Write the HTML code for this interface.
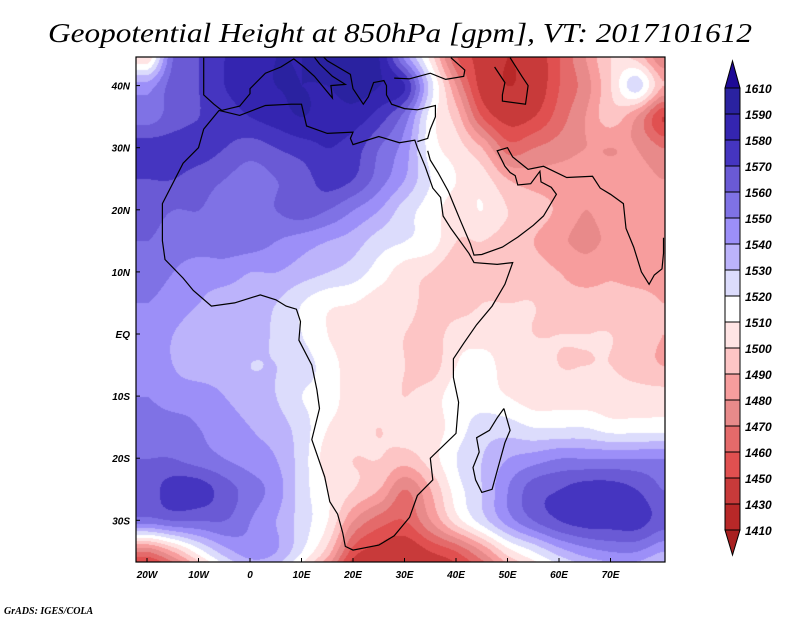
<!DOCTYPE html>
<html><head><meta charset="utf-8"><style>
body{margin:0;background:#fff;width:800px;height:618px;overflow:hidden;position:relative;font-family:"Liberation Sans",sans-serif}
canvas{position:absolute;left:0;top:0}
svg{position:absolute;left:0;top:0}
</style></head><body>
<canvas id="field" width="800" height="618"></canvas>
<svg id="ov" width="800" height="618"></svg>
<script>
const lons=[-20,-15,-10,-5,0,5,10,15,20,25,30,35,40,45,50,55,60,65,70,75,80];
const lats=[45,40,35,30,25,20,15,10,5,0,-5,-10,-15,-20,-25,-30,-35,-40];
const hgt=[
[1500,1560,1570,1580,1585,1590,1590,1595,1595,1590,1545,1505,1460,1445,1430,1440,1460,1480,1500,1495,1470],
[1545,1565,1570,1580,1585,1590,1590,1590,1595,1590,1580,1525,1480,1445,1430,1440,1460,1475,1500,1525,1490],
[1555,1565,1570,1575,1580,1585,1590,1585,1585,1575,1555,1515,1495,1460,1445,1450,1465,1480,1495,1480,1450],
[1575,1575,1575,1570,1565,1570,1575,1580,1575,1560,1545,1515,1505,1490,1465,1470,1475,1480,1480,1480,1470],
[1570,1570,1565,1560,1555,1560,1565,1575,1570,1555,1540,1520,1510,1505,1490,1485,1485,1485,1485,1485,1480],
[1565,1560,1560,1555,1555,1560,1565,1560,1550,1540,1525,1515,1505,1510,1500,1495,1488,1480,1485,1485,1485],
[1560,1555,1555,1555,1555,1550,1545,1540,1535,1525,1520,1515,1500,1500,1495,1490,1482,1478,1482,1485,1485],
[1555,1550,1545,1545,1540,1540,1535,1530,1525,1515,1505,1500,1492,1495,1495,1495,1490,1485,1488,1485,1485],
[1550,1545,1540,1535,1535,1530,1520,1512,1510,1505,1505,1495,1495,1500,1500,1500,1495,1495,1495,1495,1490],
[1545,1540,1535,1535,1535,1528,1520,1510,1505,1505,1500,1495,1505,1505,1505,1500,1500,1500,1500,1495,1490],
[1545,1540,1535,1535,1530,1530,1525,1515,1505,1505,1500,1495,1510,1515,1505,1505,1500,1500,1500,1495,1490],
[1550,1545,1545,1540,1535,1530,1520,1515,1505,1505,1500,1505,1515,1515,1510,1505,1505,1505,1505,1505,1505],
[1555,1555,1550,1545,1540,1535,1525,1510,1505,1500,1505,1505,1515,1525,1525,1520,1520,1520,1515,1515,1515],
[1560,1560,1555,1550,1545,1540,1525,1505,1500,1500,1495,1505,1520,1530,1540,1545,1550,1550,1550,1550,1550],
[1565,1575,1575,1565,1555,1545,1525,1510,1500,1490,1470,1490,1515,1530,1550,1565,1570,1575,1575,1570,1560],
[1555,1560,1560,1560,1550,1540,1525,1510,1480,1465,1460,1480,1505,1525,1545,1560,1570,1575,1575,1575,1565],
[1470,1490,1515,1535,1545,1540,1520,1495,1455,1445,1440,1450,1460,1480,1505,1520,1535,1545,1550,1550,1540],
[1420,1440,1470,1500,1520,1515,1490,1460,1430,1430,1430,1430,1440,1450,1470,1490,1500,1515,1520,1520,1510]
];
const levels=[1410,1430,1450,1460,1470,1480,1490,1500,1510,1520,1530,1540,1550,1560,1570,1580,1590,1610];
const levelColors=["#a82020","#b82828","#c83a3a","#e05050","#e46a6a","#e88a8a","#f79d9d","#fdc5c5","#ffe4e4","#ffffff","#dcdcfc","#bcb3fb","#9c8ff8","#7f72e5","#6a5ad5","#4535c0","#3425b0","#2a22a0","#1e0a96"];
const lonTicks=[-20,-10,0,10,20,30,40,50,60,70];
const lonTickLabels=["20W","10W","0","10E","20E","30E","40E","50E","60E","70E"];
const latTicks=[40,30,20,10,0,-10,-20,-30];
const latTickLabels=["40N","30N","20N","10N","EQ","10S","20S","30S"];

const PL=136,PR=665,PT=57,PB=562;
const xOf=l=>250+l*5.15, yOf=p=>334-p*6.21;
const lonOf=x=>(x-250)/5.15, latOf=y=>(334-y)/6.21;
function cr(p0,p1,p2,p3,t){return 0.5*((2*p1)+(-p0+p2)*t+(2*p0-5*p1+4*p2-p3)*t*t+(-p0+3*p1-3*p2+p3)*t*t*t);}
function g(j,i){j=Math.max(0,Math.min(lats.length-1,j));i=Math.max(0,Math.min(lons.length-1,i));return hgt[j][i];}
function val(lo,la){
  let fi=(lo-lons[0])/5, fj=(lats[0]-la)/5;
  fi=Math.max(0,Math.min(lons.length-1.001,fi)); fj=Math.max(0,Math.min(lats.length-1.001,fj));
  const i=Math.floor(fi),j=Math.floor(fj),a=fi-i,b=fj-j;
  const r=[];for(let k=-1;k<=2;k++)r.push(cr(g(j+k,i-1),g(j+k,i),g(j+k,i+1),g(j+k,i+2),a));
  return cr(r[0],r[1],r[2],r[3],b);
}
function hex(c){return [parseInt(c.slice(1,3),16),parseInt(c.slice(3,5),16),parseInt(c.slice(5,7),16)];}
const rgb=levelColors.map(hex);
function colIdx(v){let k=0;while(k<levels.length&&v>=levels[k])k++;return k;}
const cv=document.getElementById('field'),ctx=cv.getContext('2d');
const img=ctx.createImageData(PR-PL,PB-PT);
for(let y=PT;y<PB;y++)for(let x=PL;x<PR;x++){
  const c=rgb[colIdx(val(lonOf(x),latOf(y)))];const o=((y-PT)*(PR-PL)+(x-PL))*4;
  img.data[o]=c[0];img.data[o+1]=c[1];img.data[o+2]=c[2];img.data[o+3]=255;}
ctx.putImageData(img,PL,PT);

const NS='http://www.w3.org/2000/svg',svg=document.getElementById('ov');
function mk(t,a,p){const e=document.createElementNS(NS,t);for(const k in a)e.setAttribute(k,a[k]);(p||svg).appendChild(e);return e;}
const coasts=[
["africa-coastline",[[-6,36],[-9,33],[-10,30],[-13,27.5],[-17,21],[-17,15],[-16.5,12],[-13,9],[-11,7],[-7.5,4.5],[-3,5],[2,6.3],[5,5.5],[7,4.5],[9,4],[9.8,2],[9.5,-1],[12,-5],[13,-9],[13.5,-12],[12,-17],[14.5,-23],[15.5,-27],[17,-29],[18,-32],[18.5,-34.2],[20,-34.8],[25,-34],[28,-32.5],[31,-29.5],[32.5,-26],[35.5,-23.5],[35,-20],[40,-16],[40.5,-11],[39.5,-7],[39.5,-4],[41.5,-1.5],[44,1.5],[47,4.5],[49.5,8],[51,11.5],[48,11.2],[43.5,11.5],[42.5,13],[39,17],[37.5,19],[37,22],[35.5,23.5],[34,27],[32.5,30],[32,31.2],[29,30.8],[25,31.8],[20,30.5],[19.5,31.5],[20,32.5],[15,32.3],[11,33.5],[10,37],[8,37],[3,36.8],[-2,35.2],[-6,36]]],
["arabia-india-coastline",[[34.5,29.5],[35,28],[36.5,26],[38.5,23],[39.5,21],[41,18],[42.8,14.5],[43.5,12.7],[45,12.8],[49,14],[52,15.6],[55,17.5],[57,19],[59.5,22.5],[58.5,23.6],[56.5,24.5],[56.3,26.2],[54.5,24.2],[52,24],[51.5,25.5],[50.5,26],[49.5,27],[48,29.5],[50,30],[51,28.5],[54,26.5],[57,27],[61.5,25.2],[66.5,25.4],[68,23.5],[70,22.5],[72.5,21],[73,17],[74.5,14],[76,10],[77.5,8],[78.5,9.5],[80,10.5],[80.3,13],[80.3,15.5]]],
["europe-coastline",[[-9,44.5],[-9,43],[-9,38.5],[-7,37],[-5.5,36],[-2,36.7],[0,38.7],[0,39.5],[3,42],[6,43],[8.5,44.3],[10.5,43],[12.5,41.5],[16,38],[15.7,40],[18.5,40.2],[16,41.5],[13.5,43.5],[12.3,44.8]]],
["balkan-turkey-coastline",[[13.6,45.2],[15,44],[19.5,41.8],[20,39.5],[22,37],[23,38.2],[24,40.5],[26,40.8],[26.5,40],[26.5,38.5],[27.5,37],[30,36.3],[32.5,36.1],[36,36.8],[36,35],[35,33],[34.5,31.5],[32.5,31]]],
["black-sea-coastline",[[28,41.2],[31,41.1],[35,42],[38,41],[41.5,41.5],[41.7,42.5],[39,44.5]]],
["caspian-coastline",[[47.5,43],[49.5,40.5],[49,38.5],[49,37.5],[53.5,37],[54,40],[52.8,41.5],[50.5,44.5]]],
["madagascar-coastline",[[49.3,-12],[50.5,-15.5],[49.5,-17.5],[48,-22],[47,-25],[45,-25.5],[43.8,-23.5],[43.3,-21.5],[44.5,-19],[44,-16.7],[46.5,-15.5],[48,-13.5],[49.3,-12]]]
];
const defs=mk('defs',{});const cp=mk('clipPath',{id:'clp'},defs);mk('rect',{x:PL,y:PT,width:PR-PL,height:PB-PT},cp);
const cg=mk('g',{'clip-path':'url(#clp)'});
coasts.forEach(c=>{const p=mk('polyline',{points:c[1].map(q=>xOf(q[0]).toFixed(1)+','+yOf(q[1]).toFixed(1)).join(' '),fill:'none',stroke:'#000','stroke-width':1.2},cg);

});
const fr=mk('rect',{x:PL,y:PT,width:PR-PL,height:PB-PT,fill:'none',stroke:'#000','stroke-width':1.2});


const tf='font-family:"Liberation Sans",sans-serif;font-weight:bold;font-style:italic;font-size:10px';
lonTicks.forEach((l,i)=>{const x=xOf(l);mk('line',{x1:x,x2:x,y1:PB,y2:PB-4,stroke:'#000'});
const t=mk('text',{x:x,y:578,'text-anchor':'middle',style:tf});t.textContent=lonTickLabels[i];

});
latTicks.forEach((l,i)=>{const y=yOf(l);mk('line',{x1:PL,x2:PL+4,y1:y,y2:y,stroke:'#000'});
const t=mk('text',{x:130,y:y+4,'text-anchor':'end',style:tf});t.textContent=latTickLabels[i];

});
const CX=725,CW=15,CT=88,BH=26,n=levels.length-1;
const cb=mk('g',{});
mk('polygon',{points:`${CX},${CT} ${CX+CW},${CT} ${CX+CW/2},61`,fill:levelColors[levelColors.length-1],stroke:'#000'},cb);
for(let k=0;k<n;k++){const r=mk('rect',{x:CX,y:CT+k*BH,width:CW,height:BH,fill:levelColors[levelColors.length-2-k],stroke:'#000','stroke-width':1},cb);

}
const cbB=CT+n*BH;
mk('polygon',{points:`${CX},${cbB} ${CX+CW},${cbB} ${CX+CW/2},555`,fill:levelColors[0],stroke:'#000'},cb);
for(let k=0;k<=n;k++){const t=mk('text',{x:745,y:CT+k*BH+5,style:'font-family:"Liberation Sans",sans-serif;font-weight:bold;font-style:italic;font-size:12px'},cb);
t.textContent=levels[levels.length-1-k];

}
const ti=mk('text',{x:48,y:42,textLength:704,lengthAdjust:'spacingAndGlyphs',style:'font-family:"Liberation Serif",serif;font-style:italic;font-size:27px'});
ti.textContent='Geopotential Height at 850hPa [gpm], VT: 2017101612';


const crd=mk('text',{x:4,y:614,style:'font-family:"Liberation Serif",serif;font-weight:bold;font-style:italic;font-size:10px'});
crd.textContent='GrADS: IGES/COLA';


</script>
</body></html>
